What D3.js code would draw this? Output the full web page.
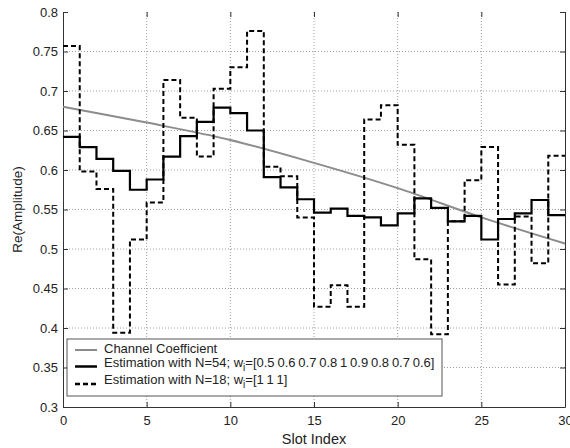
<!DOCTYPE html>
<html>
<head>
<meta charset="utf-8">
<script src="https://cdn.jsdelivr.net/npm/d3@7"></script>
<style>
  body { margin: 0; background: #fff; }
  text { font-family: "Liberation Sans", Arial, sans-serif; fill: #222; }
</style>
</head>
<body>
<script>
// slot index edges for the step series (slot k covers k..k+1)
var slotStarts = [0, 1, 2, 3, 4, 5, 6, 7, 8, 9, 10, 11, 12, 13, 14, 15, 16, 17, 18, 19, 20, 21, 22, 23, 24, 25, 26, 27, 28, 29]

// Estimation with N=54, weighted
var estN54 = [0.642, 0.629, 0.614, 0.599, 0.575, 0.588, 0.617, 0.643, 0.661, 0.679,
              0.672, 0.650, 0.591, 0.578, 0.563, 0.546, 0.551, 0.542, 0.540, 0.530,
              0.545, 0.564, 0.552, 0.535, 0.542, 0.512, 0.538, 0.545, 0.562, 0.543]

// Estimation with N=18, w=[1 1 1]
var estN18 = [0.757, 0.598, 0.576, 0.394, 0.512, 0.559, 0.714, 0.666, 0.617, 0.703,
              0.730, 0.776, 0.604, 0.592, 0.540, 0.427, 0.454, 0.427, 0.664, 0.682,
              0.632, 0.487, 0.392, 0.535, 0.587, 0.629, 0.455, 0.541, 0.482, 0.618]

// channel coefficient (smooth)
var chanSlots = [0, 5, 10, 15, 20, 25, 30]
var chanValues = [0.680, 0.660, 0.638, 0.609, 0.577, 0.540, 0.507]

var xTicks = [0, 5, 10, 15, 20, 25, 30]
var yTicks = [0.3, 0.35, 0.4, 0.45, 0.5, 0.55, 0.6, 0.65, 0.7, 0.75, 0.8]
var yTickLabels = ["0.3", "0.35", "0.4", "0.45", "0.5", "0.55", "0.6", "0.65", "0.7", "0.75", "0.8"]

var legendLabels = ["Channel Coefficient",
                    "Estimation with N=54; w",
                    "Estimation with N=18; w"]
var legendTails = ["", "=[0.5 0.6 0.7 0.8 1 0.9 0.8 0.7 0.6]", "=[1 1 1]"]

var width = 570
var height = 448
var margin = { left: 63, top: 12, right: 5, bottom: 41 }
var innerW = width - margin.left - margin.right
var innerH = height - margin.top - margin.bottom

var svg = d3.select("body")
  .append("svg")
    .attr("width", width)
    .attr("height", height)

var g = svg.append("g")
  .attr("transform", "translate(" + margin.left + "," + margin.top + ")")

var x = d3.scaleLinear().domain([0, 30]).range([0, innerW])
var y = d3.scaleLinear().domain([0.3, 0.8]).range([innerH, 0])

// dotted grid
g.selectAll(".vgrid")
  .data(xTicks.slice(1, -1))
  .enter()
  .append("line")
  .attr("x1", function(d) { return x(d) })
  .attr("x2", function(d) { return x(d) })
  .attr("y1", 0)
  .attr("y2", innerH)
  .attr("stroke", "#a0a0a0")
  .attr("stroke-width", 1)
  .attr("stroke-dasharray", "1,2")

g.selectAll(".hgrid")
  .data(yTicks.slice(1, -1))
  .enter()
  .append("line")
  .attr("x1", 0)
  .attr("x2", innerW)
  .attr("y1", function(d) { return y(d) })
  .attr("y2", function(d) { return y(d) })
  .attr("stroke", "#a0a0a0")
  .attr("stroke-width", 1)
  .attr("stroke-dasharray", "1,2")

// axes, ticks inward like matlab
var xAxis = d3.axisBottom(x).tickValues(xTicks).tickSizeInner(-5).tickSizeOuter(0).tickPadding(9)
var yAxis = d3.axisLeft(y).tickValues(yTicks).tickSizeInner(-5).tickSizeOuter(0).tickPadding(5)
  .tickFormat(function(d, i) { return yTickLabels[i] })

var gx = g.append("g").attr("transform", "translate(0," + innerH + ")").call(xAxis)
var gy = g.append("g").call(yAxis)
var gr = g.append("g").attr("transform", "translate(" + innerW + ",0)")
  .call(d3.axisRight(y).tickValues(yTicks).tickSizeInner(-5).tickSizeOuter(0).tickFormat(""))
var gt = g.append("g")
  .call(d3.axisTop(x).tickValues(xTicks).tickSizeInner(-5).tickSizeOuter(0).tickFormat(""))
gt.select(".domain").remove()

;[gx, gy, gr, gt].forEach(function(a) {
  a.selectAll("text").style("font-size", "13px").style("font-family", "Liberation Sans, Arial, sans-serif").attr("fill", "#222")
  a.selectAll("line").attr("stroke", "#333")
  a.select(".domain").attr("stroke", "#333")
})

// channel coefficient
var chanLine = d3.line()
  .x(function(d, i) { return x(chanSlots[i]) })
  .y(function(d) { return y(d) })
  .curve(d3.curveMonotoneX)

g.append("path")
  .datum(chanValues)
  .attr("d", chanLine)
  .attr("fill", "none")
  .attr("stroke", "#8c8c8c")
  .attr("stroke-width", 2)

// step series
function stepPoints(vals) {
  var pts = slotStarts.map(function(s, i) { return [s, vals[i]] })
  pts.push([slotStarts[slotStarts.length - 1] + 1, vals[vals.length - 1]])
  return pts
}

var stepLine = d3.line()
  .x(function(d) { return x(d[0]) })
  .y(function(d) { return y(d[1]) })
  .curve(d3.curveStepAfter)

g.append("path")
  .datum(stepPoints(estN18))
  .attr("d", stepLine)
  .attr("fill", "none")
  .attr("stroke", "#000")
  .attr("stroke-width", 2)
  .attr("stroke-dasharray", "5,3")

g.append("path")
  .datum(stepPoints(estN54))
  .attr("d", stepLine)
  .attr("fill", "none")
  .attr("stroke", "#000")
  .attr("stroke-width", 2.2)

// legend
var lg = svg.append("g").attr("transform", "translate(67,339)")
lg.append("rect")
  .attr("x", 0).attr("y", 0)
  .attr("width", 375).attr("height", 57)
  .attr("fill", "#fff")
  .attr("stroke", "#555")
  .attr("stroke-width", 1)

var legendStyles = [
  { stroke: "#8c8c8c", width: 2, dash: null },
  { stroke: "#000", width: 2.5, dash: null },
  { stroke: "#000", width: 2.5, dash: "5,3" }
]
var legendLineY = [11, 27.5, 45]
var legendTextY = [14, 27.5, 45]

legendLabels.forEach(function(lab, i) {
  lg.append("line")
    .attr("x1", 8).attr("x2", 30)
    .attr("y1", legendLineY[i]).attr("y2", legendLineY[i])
    .attr("stroke", legendStyles[i].stroke)
    .attr("stroke-width", legendStyles[i].width)
    .attr("stroke-dasharray", legendStyles[i].dash)
  var t = lg.append("text")
    .attr("x", 37).attr("y", legendTextY[i])
    .style("font-size", "13px")
    .text(lab)
  if (legendTails[i] !== "") {
    t.append("tspan").attr("dy", 4).style("font-size", "10px").text("i")
    t.append("tspan").attr("dy", -4).style("word-spacing", "-0.8px").text(legendTails[i])
  }
})

// axis labels
svg.append("text")
  .attr("x", margin.left + innerW / 2)
  .attr("y", 444)
  .attr("text-anchor", "middle")
  .style("font-size", "14.5px")
  .text("Slot Index")

svg.append("text")
  .attr("transform", "translate(22," + (margin.top + innerH / 2) + ") rotate(-90)")
  .attr("text-anchor", "middle")
  .style("font-size", "13.5px")
  .text("Re(Amplitude)")
</script>
</body>
</html>
